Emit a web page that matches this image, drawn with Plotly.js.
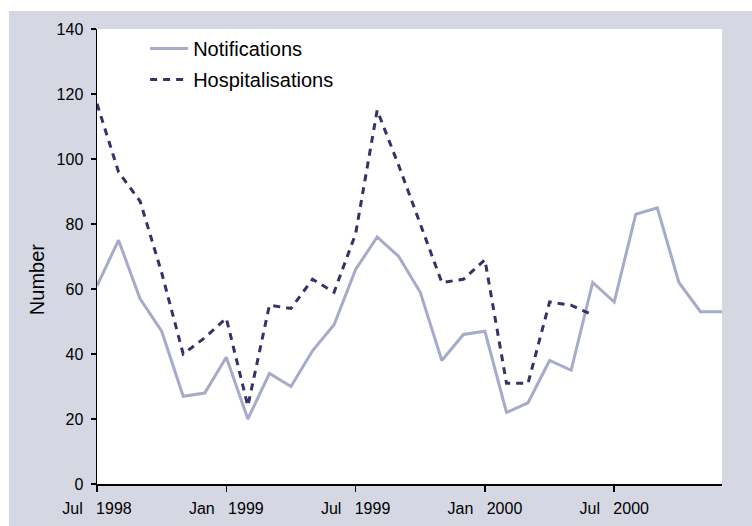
<!DOCTYPE html>
<html>
<head>
<meta charset="utf-8">
<script src="https://cdn.plot.ly/plotly-3.0.1.min.js"></script>
<style>
  html, body { margin: 0; padding: 0; background: #ffffff; }
  #chart { position: absolute; left: 9px; top: 11px; width: 743px; height: 515px; }
</style>
</head>
<body>
<div id="chart"></div>
<script>
// Months from Jul 1998 (index 0) to Dec 2000 (index 29)
const monthIndex = [0,1,2,3,4,5,6,7,8,9,10,11,12,13,14,15,16,17,18,19,20,21,22,23,24,25,26,27,28,29];
const notifications = [61,75,57,47,27,28,39,20,34,30,41,49,66,76,70,59,38,46,47,22,25,38,35,62,56,83,85,62,53,53];
const hospitalisations = [117,96,87,65,40,45,51,24,55,54,63,59,77,115,98,80,62,63,69,31,31,56,55,52];
const tickPositions = [0,6,12,18,24];
const tickLabels = ["Jul\u00a0\u00a0\u00a01998","Jan\u00a0\u00a0\u00a01999","Jul\u00a0\u00a0\u00a01999","Jan\u00a0\u00a0\u00a02000","Jul\u00a0\u00a0\u00a02000"];

const traces = [
  {
    x: monthIndex, y: notifications, name: "Notifications",
    type: "scatter", mode: "lines", legendgroup: "a",
    line: { color: "#a5abc9", width: 3 }
  },
  {
    x: monthIndex.slice(0, hospitalisations.length), y: hospitalisations, name: "Hospitalisations",
    type: "scatter", mode: "lines", legendgroup: "b",
    line: { color: "#333369", width: 3, dash: "7px,6px" }
  }
];

const layout = {
  width: 743, height: 515,
  margin: { l: 88, r: 30, t: 18, b: 42 },
  paper_bgcolor: "#d5d7e3",
  plot_bgcolor: "#ffffff",
  font: { family: "Liberation Sans, Arial, sans-serif", color: "#000000", size: 16 },
  showlegend: true,
  legend: {
    x: 0.077, y: 1.0, xanchor: "left", yanchor: "top",
    bgcolor: "rgba(0,0,0,0)", font: { size: 20 },
    traceorder: "grouped", tracegroupgap: 2, itemwidth: 38
  },
  xaxis: {
    range: [0, 29], showgrid: false, zeroline: false,
    showline: true, linecolor: "#000000", linewidth: 1.5,
    ticks: "outside", ticklen: 6, tickcolor: "#000000", tickwidth: 1.5,
    tickmode: "array", tickvals: tickPositions, ticktext: tickLabels,
    ticklabelstandoff: 3, tickfont: { size: 16 }
  },
  yaxis: {
    range: [0, 140], dtick: 20, showgrid: false, zeroline: false,
    showline: true, linecolor: "#000000", linewidth: 1.5,
    ticks: "outside", ticklen: 5, tickcolor: "#000000", tickwidth: 1.5,
    ticklabelstandoff: 4, tickfont: { size: 16 }
  },
  annotations: [
    {
      text: "Number", xref: "paper", yref: "paper", x: 0, y: 0.448,
      xanchor: "center", yanchor: "middle", xshift: -60, textangle: -90,
      showarrow: false, font: { size: 20 }
    }
  ]
};

Plotly.newPlot("chart", traces, layout, { displayModeBar: false, staticPlot: true });
</script>
</body>
</html>
